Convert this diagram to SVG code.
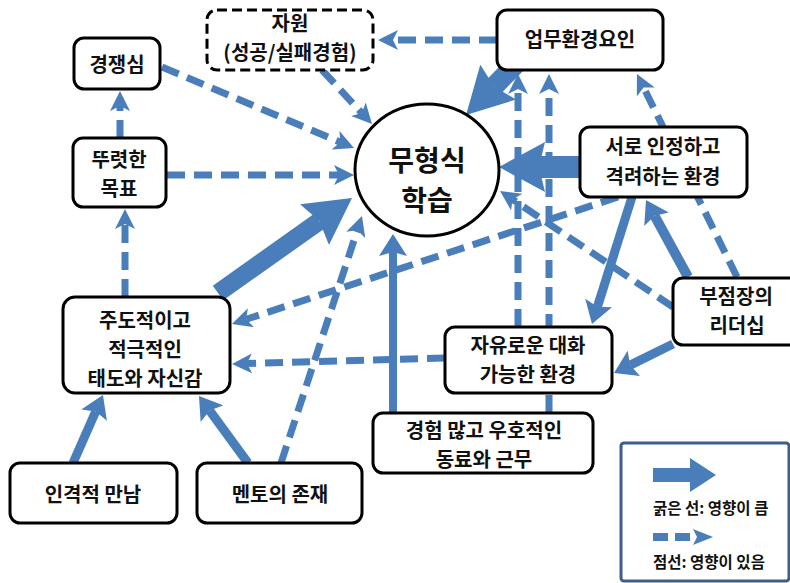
<svg xmlns="http://www.w3.org/2000/svg" width="790" height="583" viewBox="0 0 790 583">
  <style>
    .box { fill: #ffffff; stroke: #000000; stroke-width: 3; }
    .box-dash { fill: #ffffff; stroke: #000000; stroke-width: 3; stroke-dasharray: 10 5; }
    .lbl { font-family: "Noto Sans CJK KR", "Noto Sans", sans-serif; font-weight: bold; font-size: 20px; fill: #111111; text-anchor: middle; }
    .big { font-size: 28px; }
    .leg { font-family: "Noto Sans CJK KR", "Noto Sans", sans-serif; font-weight: bold; font-size: 15.5px; fill: #111111; }
    .dash { fill: none; stroke: #4a7ebb; stroke-width: 7; stroke-dasharray: 18 9; marker-end: url(#ah-dash); }
    .solid { fill: none; stroke: #4a7ebb; stroke-width: 9; marker-end: url(#ah-mid); }
    .thick { fill: none; stroke: #4a7ebb; marker-end: url(#ah-thick); }
  </style>
  <defs>
    <!-- head for dashed links (notch sits on the line end) -->
    <marker id="ah-dash" viewBox="0 0 20 20" markerWidth="20" markerHeight="20" markerUnits="userSpaceOnUse" refX="5" refY="10" orient="auto">
      <path d="M0,0 L20,10 L0,20 L5,10 z" fill="#4a7ebb"/>
    </marker>
    <!-- head for medium solid links -->
    <marker id="ah-mid" viewBox="0 0 22 28" markerWidth="22" markerHeight="28" markerUnits="userSpaceOnUse" refX="4" refY="14" orient="auto">
      <path d="M0,0 L22,14 L0,28 L4,14 z" fill="#4a7ebb"/>
    </marker>
    <!-- head for heavy links -->
    <marker id="ah-thick" viewBox="0 0 46 50" markerWidth="46" markerHeight="50" markerUnits="userSpaceOnUse" refX="6" refY="25" orient="auto">
      <path d="M0,0 L46,25 L0,50 L6,25 z" fill="#4a7ebb"/>
    </marker>
  </defs>

  <rect width="790" height="583" fill="#ffffff"/>

  <g id="connectors">
    <!-- dashed influences -->
    <line class="dash" x1="497" y1="40" x2="393" y2="40"/>
    <line class="dash" x1="322" y1="70" x2="361.8" y2="113"/>
    <line class="dash" x1="162" y1="67" x2="340.2" y2="142.2"/>
    <line class="dash" x1="167" y1="175" x2="339" y2="175"/>
    <line class="dash" x1="120" y1="138" x2="120" y2="106"/>
    <line class="dash" x1="125" y1="297" x2="125" y2="224"/>
    <line class="dash" x1="618" y1="197" x2="246.2" y2="319.3"/>
    <line class="dash" x1="445" y1="358" x2="247" y2="363.6"/>
    <line class="dash" x1="281" y1="463" x2="357.3" y2="230.2"/>
    <line class="dash" x1="518" y1="327" x2="518" y2="89"/>
    <line class="dash" x1="549" y1="413" x2="549" y2="89"/>
    <line class="dash" x1="737" y1="277" x2="643.6" y2="87.5"/>
    <line class="dash" x1="673" y1="307" x2="512.5" y2="199.4"/>

    <!-- medium solid influences -->
    <line class="solid" x1="73" y1="463" x2="95.7" y2="411.5"/>
    <line class="solid" x1="248" y1="463" x2="209.6" y2="410.5"/>
    <line class="solid" x1="393" y1="413" x2="393" y2="252" style="stroke-width:8"/>
    <line class="solid" x1="632" y1="197" x2="597.4" y2="306.8"/>
    <line class="solid" x1="688" y1="277" x2="654.6" y2="215.8" style="stroke-width:10"/>
    <line class="solid" x1="673" y1="344" x2="630.2" y2="365.1"/>

    <!-- heavy influences -->
    <line class="thick" x1="218" y1="293" x2="319.4" y2="221.1" style="stroke-width:18"/>
    <line class="thick" x1="518.4" y1="61.4" x2="494" y2="86.4" style="stroke-width:20"/>
    <line class="thick" x1="585" y1="167" x2="539" y2="167" style="stroke-width:22"/>
  </g>

  <g id="n-resource">
    <rect class="box-dash" x="207" y="10" width="166" height="60" rx="10"/>
    <text class="lbl" x="290" y="31">자원</text>
    <text class="lbl" x="290" y="60">(성공/실패경험)</text>
  </g>

  <g id="n-competition">
    <rect class="box" x="74" y="38" width="86" height="51" rx="10"/>
    <text class="lbl" x="117" y="72">경쟁심</text>
  </g>

  <g id="n-goal">
    <rect class="box" x="73" y="138" width="93" height="69" rx="10"/>
    <text class="lbl" x="119" y="167">뚜렷한</text>
    <text class="lbl" x="119" y="196">목표</text>
  </g>

  <g id="n-informal">
    <ellipse cx="427" cy="170" rx="72" ry="66" fill="#ffffff" stroke="#000000" stroke-width="3"/>
    <text class="lbl big" x="427" y="171">무형식</text>
    <text class="lbl big" x="427" y="211">학습</text>
  </g>

  <g id="n-work">
    <rect class="box" x="497" y="10" width="166" height="60" rx="10"/>
    <text class="lbl" x="580" y="47">업무환경요인</text>
  </g>

  <g id="n-recognition">
    <rect class="box" x="580" y="127" width="167" height="70" rx="10"/>
    <text class="lbl" x="663" y="154">서로 인정하고</text>
    <text class="lbl" x="663" y="184">격려하는 환경</text>
  </g>

  <g id="n-leader">
    <rect class="box" x="673" y="278" width="128" height="67" rx="10"/>
    <text class="lbl" x="736" y="304">부점장의</text>
    <text class="lbl" x="737" y="333">리더십</text>
  </g>

  <g id="n-dialogue">
    <rect class="box" x="445" y="327" width="167" height="66" rx="10"/>
    <text class="lbl" x="528" y="353">자유로운 대화</text>
    <text class="lbl" x="528" y="382">가능한 환경</text>
  </g>

  <g id="n-attitude">
    <rect class="box" x="63" y="297" width="167" height="96" rx="12"/>
    <text class="lbl" x="145" y="328">주도적이고</text>
    <text class="lbl" x="145" y="357">적극적인</text>
    <text class="lbl" x="145" y="386">태도와 자신감</text>
  </g>

  <g id="n-colleague">
    <rect class="box" x="373" y="413" width="220" height="60" rx="10"/>
    <text class="lbl" x="484" y="438">경험 많고 우호적인</text>
    <text class="lbl" x="484" y="467">동료와 근무</text>
  </g>

  <g id="n-personal">
    <rect class="box" x="10" y="463" width="167" height="60" rx="10"/>
    <text class="lbl" x="93" y="502">인격적 만남</text>
  </g>

  <g id="n-mentor">
    <rect class="box" x="197" y="463" width="165" height="60" rx="10"/>
    <text class="lbl" x="280" y="502">멘토의 존재</text>
  </g>

  <g id="legend">
    <rect x="621" y="443" width="168" height="138" rx="3" fill="#ffffff" stroke="#3d5d8a" stroke-width="3"/>
    <polygon points="653,468 690,468 690,458 716,475 690,492 690,482 653,482" fill="#4a7ebb"/>
    <text class="leg" x="653" y="514">굵은 선: 영향이 큼</text>
    <line x1="653" y1="537" x2="695" y2="537" stroke="#4a7ebb" stroke-width="8" stroke-dasharray="15 7"/>
    <polygon points="693,529 713,537 693,545 697,537" fill="#4a7ebb"/>
    <text class="leg" x="653" y="568">점선: 영향이 있음</text>
  </g>
</svg>
